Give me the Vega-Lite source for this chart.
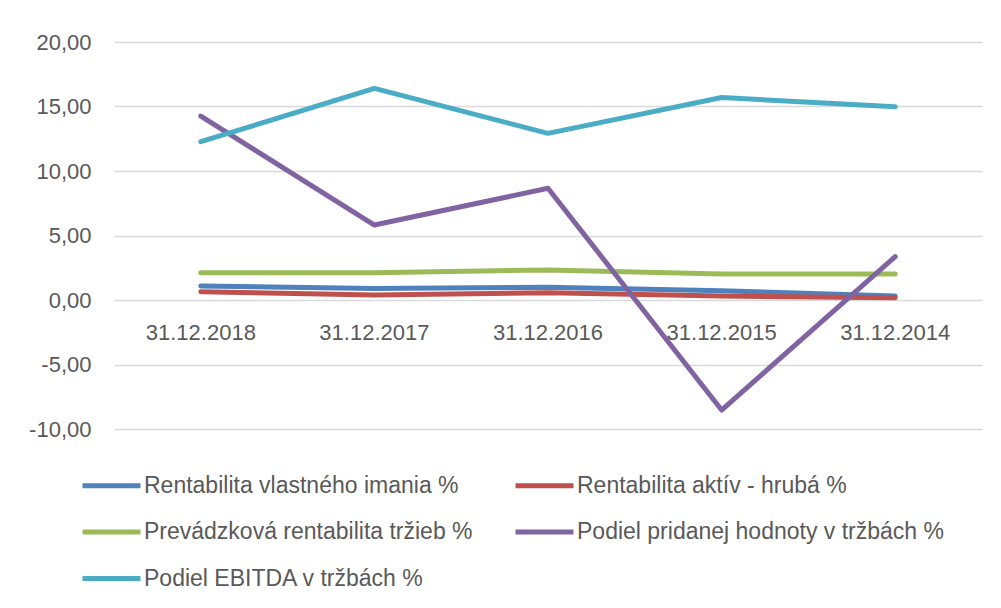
{
  "$schema": "https://vega.github.io/schema/vega-lite/v6.json",
  "width": 868,
  "height": 387,
  "autosize": {"type": "none"},
  "padding": {"left": 114, "top": 42, "right": 19, "bottom": 179},
  "background": "white",
  "config": {
    "locale": {"number": {"decimal": ",", "thousands": " ", "grouping": [3], "currency": ["", " €"], "minus": "-"}},
    "view": {"stroke": null},
    "font": "Liberation Sans"
  },
  "data": {
    "values": [
      {"date": "31.12.2018", "series": "Rentabilita vlastného imania %", "value": 1.09},
      {"date": "31.12.2017", "series": "Rentabilita vlastného imania %", "value": 0.9},
      {"date": "31.12.2016", "series": "Rentabilita vlastného imania %", "value": 0.98},
      {"date": "31.12.2015", "series": "Rentabilita vlastného imania %", "value": 0.72},
      {"date": "31.12.2014", "series": "Rentabilita vlastného imania %", "value": 0.31},
      {"date": "31.12.2018", "series": "Rentabilita aktív - hrubá %", "value": 0.64},
      {"date": "31.12.2017", "series": "Rentabilita aktív - hrubá %", "value": 0.39},
      {"date": "31.12.2016", "series": "Rentabilita aktív - hrubá %", "value": 0.57},
      {"date": "31.12.2015", "series": "Rentabilita aktív - hrubá %", "value": 0.31},
      {"date": "31.12.2014", "series": "Rentabilita aktív - hrubá %", "value": 0.18},
      {"date": "31.12.2018", "series": "Prevádzková rentabilita tržieb %", "value": 2.12},
      {"date": "31.12.2017", "series": "Prevádzková rentabilita tržieb %", "value": 2.12},
      {"date": "31.12.2016", "series": "Prevádzková rentabilita tržieb %", "value": 2.33},
      {"date": "31.12.2015", "series": "Prevádzková rentabilita tržieb %", "value": 2.02},
      {"date": "31.12.2014", "series": "Prevádzková rentabilita tržieb %", "value": 2.02},
      {"date": "31.12.2018", "series": "Podiel pridanej hodnoty v tržbách %", "value": 14.26},
      {"date": "31.12.2017", "series": "Podiel pridanej hodnoty v tržbách %", "value": 5.81},
      {"date": "31.12.2016", "series": "Podiel pridanej hodnoty v tržbách %", "value": 8.66},
      {"date": "31.12.2015", "series": "Podiel pridanej hodnoty v tržbách %", "value": -8.53},
      {"date": "31.12.2014", "series": "Podiel pridanej hodnoty v tržbách %", "value": 3.36},
      {"date": "31.12.2018", "series": "Podiel EBITDA v tržbách %", "value": 12.27},
      {"date": "31.12.2017", "series": "Podiel EBITDA v tržbách %", "value": 16.4},
      {"date": "31.12.2016", "series": "Podiel EBITDA v tržbách %", "value": 12.92},
      {"date": "31.12.2015", "series": "Podiel EBITDA v tržbách %", "value": 15.7},
      {"date": "31.12.2014", "series": "Podiel EBITDA v tržbách %", "value": 14.98}
    ]
  },
  "mark": {"type": "line", "strokeWidth": 5, "strokeCap": "round", "strokeJoin": "round"},
  "encoding": {
    "x": {
      "field": "date", "type": "nominal", "sort": null,
      "scale": {"type": "band", "paddingInner": 0, "paddingOuter": 0},
      "axis": {
        "title": null, "orient": "bottom", "offset": -129, "domain": false, "ticks": false,
        "labelAngle": 0, "labelFontSize": 22, "labelColor": "#595959", "labelPadding": 22
      }
    },
    "y": {
      "field": "value", "type": "quantitative",
      "scale": {"domain": [-10, 20], "nice": false, "zero": false},
      "axis": {
        "title": null, "values": [-10, -5, 0, 5, 10, 15, 20], "format": ".2f",
        "domain": false, "ticks": false, "labelFontSize": 22, "labelColor": "#595959",
        "labelPadding": 23, "gridColor": "#D9D9D9", "gridWidth": 1.5
      }
    },
    "color": {
      "field": "series", "type": "nominal",
      "scale": {
        "domain": ["Rentabilita vlastného imania %", "Rentabilita aktív - hrubá %", "Prevádzková rentabilita tržieb %", "Podiel pridanej hodnoty v tržbách %", "Podiel EBITDA v tržbách %"],
        "range": ["#4F81BD", "#C0504D", "#9BBB59", "#8064A2", "#4BACC6"]
      },
      "legend": {
        "title": null, "orient": "none", "legendX": -34, "legendY": 412,
        "columns": 2, "direction": "horizontal",
        "symbolType": "stroke", "symbolSize": 3364, "symbolStrokeWidth": 5,
        "labelFontSize": 23, "labelColor": "#595959", "labelOffset": 1,
        "columnPadding": 32, "rowPadding": 2.5, "labelLimit": 500
      }
    }
  }
}
